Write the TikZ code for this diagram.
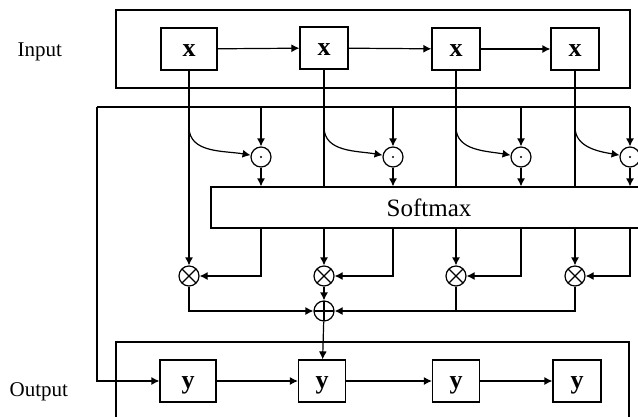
\documentclass[tikz,border=0pt]{standalone}
\usepackage{fontspec}
\setmainfont{Liberation Serif}
\usetikzlibrary{arrows.meta}

\begin{document}
\begin{tikzpicture}[x = 1pt , y = -1pt , line width = 1.2pt ,
    arr/.style = {-{Latex[length=8pt,width=8pt]}},
    cell/.style = {draw , minimum height = 42pt , inner sep = 0pt , text height = 15pt , text depth = 0pt , font = \fontsize{26}{30}\selectfont\bfseries},
    op/.style = {draw , circle , minimum size = 20pt , inner sep = 0pt},
    dotop/.style = {op , path picture = {\fill (path picture bounding box.center) circle (1.2pt);}},
    mulop/.style = {op , path picture = {\draw (path picture bounding box.north west) -- (path picture bounding box.south east) (path picture bounding box.north east) -- (path picture bounding box.south west);}},
    addop/.style = {op , path picture = {\draw (path picture bounding box.north) -- (path picture bounding box.south) (path picture bounding box.west) -- (path picture bounding box.east);}},
    lbl/.style = {inner sep = 0pt , anchor = base west , font = \fontsize{21}{24}\selectfont}]
    \clip (0,0) rectangle (638,416);
    \node[lbl] (in) at (17,56) {Input};
    \node[lbl] (out) at (9,396) {Output};
    \draw (116,10) rectangle (630,88); % Πλαισιο εισοδου
    \draw (116,342) rectangle (629,440); % Πλαισιο εξοδου
    \node[cell , minimum width = 56pt] (x1) at (189,49) {x};
    \node[cell , minimum width = 48pt] (x2) at (324,48) {x};
    \node[cell , minimum width = 48pt] (x3) at (456,49) {x};
    \node[cell , minimum width = 48pt] (x4) at (575,49) {x};
    \node[cell , minimum width = 56pt] (y1) at (188,381) {y};
    \node[cell , minimum width = 47pt] (y2) at (322,381) {y};
    \node[cell , minimum width = 47pt] (y3) at (456,381) {y};
    \node[cell , minimum width = 48pt] (y4) at (577,381) {y};
    \node[dotop] (d1) at (261,157) {};
    \node[dotop] (d2) at (393,157) {};
    \node[dotop] (d3) at (521,157) {};
    \node[dotop] (d4) at (630,157) {};
    \node[mulop] (m1) at (189,276) {};
    \node[mulop] (m2) at (324,276) {};
    \node[mulop] (m3) at (456,276) {};
    \node[mulop] (m4) at (575,276) {};
    \node[addop] (s) at (324,311) {};
    \coordinate (fl) at (97,107);
    \coordinate (fr) at (630,107);
    \draw[arr] (x1) -- (x2);
    \draw[arr] (x2) -- (x3);
    \draw[arr] (x3) -- (x4);
    \draw[arr] (y1) -- (y2);
    \draw[arr] (y2) -- (y3);
    \draw[arr] (y3) -- (y4);
    \draw[arr] (x1) -- (m1);
    \draw[arr] (x2) -- (m2);
    \draw[arr] (x3) -- (m3);
    \draw[arr] (x4) -- (m4);
    \draw[arr] (189,127) to[out = -90 , in = 170] (d1);
    \draw[arr] (324,127) to[out = -90 , in = 170] (d2);
    \draw[arr] (456,127) to[out = -90 , in = 170] (d3);
    \draw[arr] (575,127) to[out = -90 , in = 170] (d4);
    \node[draw , fill = white , minimum width = 436pt , minimum height = 41pt , font = \fontsize{25}{30}\selectfont] (sm) at (429,207.5) {Softmax};
    \draw (fl) -- (fr);
    \draw[arr] (fl) |- (y1);
    \draw[arr] (fl -| d1) -- (d1);
    \draw[arr] (fl -| d2) -- (d2);
    \draw[arr] (fl -| d3) -- (d3);
    \draw[arr] (fr) -- (d4);
    \draw[arr] (d1) -- (d1 |- sm.north);
    \draw[arr] (d2) -- (d2 |- sm.north);
    \draw[arr] (d3) -- (d3 |- sm.north);
    \draw[arr] (d4) -- (d4 |- sm.north);
    \draw[arr] (d1 |- sm.south) |- (m1);
    \draw[arr] (d2 |- sm.south) |- (m2);
    \draw[arr] (d3 |- sm.south) |- (m3);
    \draw[arr] (d4 |- sm.south) |- (m4);
    \draw[arr] (m1) |- (s);
    \draw[arr] (m2) -- (s);
    \draw[arr] (m3) |- (s);
    \draw (m4) |- (m3 |- s);
    \draw[arr] (s) -- (y2);
\end{tikzpicture}
\end{document}
